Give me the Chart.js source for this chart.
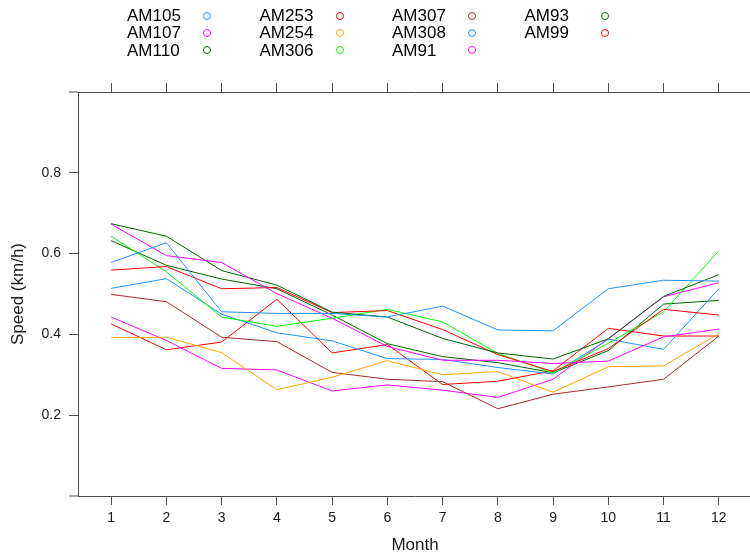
<!DOCTYPE html>
<html>
<head>
<meta charset="utf-8">
<script src="https://cdn.jsdelivr.net/npm/chart.js@4"></script>
<style>
  html, body { margin: 0; padding: 0; background: #fff; width: 750px; height: 557px; overflow: hidden; }
  #wrap { position: relative; width: 750px; height: 557px; overflow: hidden; }
  #chart { position: absolute; left: 0; top: 0; }
  #legend {
    position: absolute; left: 127px; top: 7px;
    display: grid; grid-auto-flow: column;
    grid-template-rows: repeat(3, 17.3px);
    grid-template-columns: repeat(4, 132.5px);
    font: 17px "Liberation Sans", Arial, sans-serif; color: #000;
  }
  .item { display: flex; align-items: center; line-height: 17.3px; white-space: nowrap; }
  .item .lab { display: inline-block; width: 76px; }
  .item .dot { display: inline-block; width: 6px; height: 6px; border-radius: 50%; border: 1.2px solid; }
</style>
</head>
<body>
<div id="wrap">
  <canvas id="chart" width="760" height="557"></canvas>
  <div id="legend"></div>
</div>
<script>
// monthly mean speed per animal
const months = [1, 2, 3, 4, 5, 6, 7, 8, 9, 10, 11, 12];
const yTicks = [0.2, 0.4, 0.6, 0.8];

const names  = ['AM105', 'AM107', 'AM110', 'AM253', 'AM254', 'AM306', 'AM307', 'AM308', 'AM91', 'AM93', 'AM99'];
const colors = ['#1E90FF', '#FF00FF', '#006400', '#FF0000', '#FFA500', '#00FF00', '#A52A2A', '#1E90FF', '#FF00FF', '#006400', '#FF0000'];

const am105 = [0.578, 0.627, 0.456, 0.452, 0.452, 0.443, 0.470, 0.411, 0.409, 0.513, 0.534, 0.532];
const am107 = [0.673, 0.595, 0.578, 0.501, 0.440, 0.370, 0.336, 0.336, 0.328, 0.334, 0.394, 0.413];
const am110 = [0.674, 0.643, 0.558, 0.522, 0.455, 0.443, 0.390, 0.354, 0.339, 0.389, 0.494, 0.548];
const am253 = [0.559, 0.568, 0.513, 0.516, 0.454, 0.459, 0.412, 0.350, 0.308, 0.365, 0.462, 0.448];
const am254 = [0.392, 0.393, 0.355, 0.263, 0.294, 0.335, 0.300, 0.308, 0.257, 0.320, 0.322, 0.402];
const am306 = [0.643, 0.555, 0.443, 0.420, 0.440, 0.462, 0.431, 0.353, 0.305, 0.378, 0.456, 0.607];
const am307 = [0.499, 0.481, 0.393, 0.382, 0.306, 0.289, 0.283, 0.216, 0.252, 0.270, 0.289, 0.396];
const am308 = [0.514, 0.538, 0.450, 0.404, 0.384, 0.340, 0.338, 0.318, 0.302, 0.388, 0.363, 0.513];
const am91  = [0.443, 0.385, 0.316, 0.312, 0.260, 0.275, 0.262, 0.244, 0.289, 0.390, 0.493, 0.528];
const am93  = [0.632, 0.571, 0.537, 0.513, 0.448, 0.377, 0.345, 0.330, 0.305, 0.360, 0.475, 0.484];
const am99  = [0.426, 0.362, 0.381, 0.487, 0.354, 0.375, 0.276, 0.284, 0.310, 0.415, 0.396, 0.396];

const series = [am105, am107, am110, am253, am254, am306, am307, am308, am91, am93, am99];

// legend (column-major, label then open circle)
const legend = document.getElementById('legend');
names.forEach((n, i) => {
  const d = document.createElement('div');
  d.className = 'item';
  d.innerHTML = '<span class="lab">' + n + '</span><span class="dot" style="border-color:' + colors[i] + '"></span>';
  legend.appendChild(d);
});

Chart.defaults.font.family = '"Liberation Sans", Arial, sans-serif';
Chart.defaults.color = '#1a1a1a';

const axisCol = '#4d4d4d';

// extend the top and bottom frame lines past the left axis, like the original
const frameStubs = {
  id: 'frameStubs',
  afterDraw(chart) {
    const { ctx, chartArea: a } = chart;
    ctx.save();
    ctx.strokeStyle = axisCol;
    ctx.lineWidth = 1;
    ctx.beginPath();
    ctx.moveTo(a.left - 9, a.top); ctx.lineTo(a.left, a.top);
    ctx.moveTo(a.left - 9, a.bottom); ctx.lineTo(a.left, a.bottom);
    ctx.stroke();
    ctx.restore();
  },
};

const setTicks = vals => s => { s.ticks = vals.map(v => ({ value: v })); };

new Chart(document.getElementById('chart'), {
  type: 'line',
  data: {
    datasets: series.map((vals, i) => ({
      label: names[i],
      data: vals.map((v, j) => ({ x: months[j], y: v })),
      borderColor: colors[i],
      borderWidth: 1,
      pointRadius: 0,
      tension: 0,
      fill: false,
    })),
  },
  options: {
    responsive: false,
    animation: false,
    devicePixelRatio: 1,
    layout: { padding: { left: 0, right: 8, top: 0, bottom: 0 } },
    plugins: { legend: { display: false }, tooltip: { enabled: false } },
    scales: {
      x: {
        type: 'linear', position: 'bottom', min: 0.4, max: 12.6,
        afterBuildTicks: setTicks(months),
        afterFit: s => { s.height = 61; },
        ticks: { font: { size: 14 }, padding: 5, maxRotation: 0, autoSkip: false },
        grid: { drawOnChartArea: false, tickLength: 9, color: axisCol },
        border: { color: axisCol, width: 1 },
        title: { display: true, text: 'Month', font: { size: 17 }, padding: { top: 0, bottom: 1 } },
      },
      xTop: {
        type: 'linear', position: 'top', min: 0.4, max: 12.6,
        afterBuildTicks: setTicks(months),
        afterFit: s => { s.height = 92; },
        ticks: { display: false },
        grid: { drawOnChartArea: false, tickLength: 9, color: axisCol },
        border: { color: axisCol, width: 1 },
      },
      y: {
        type: 'linear', position: 'left', min: 0, max: 1,
        afterBuildTicks: setTicks(yTicks),
        afterFit: s => { s.width = 78; },
        ticks: { font: { size: 14 }, padding: 8, callback: v => v.toFixed(1) },
        grid: { drawOnChartArea: false, tickLength: 9, color: axisCol },
        border: { color: axisCol, width: 1 },
        title: { display: true, text: 'Speed (km/h)', font: { size: 17 }, padding: { top: 8, bottom: 0 } },
      },
    },
  },
  plugins: [frameStubs],
});
</script>
</body>
</html>
